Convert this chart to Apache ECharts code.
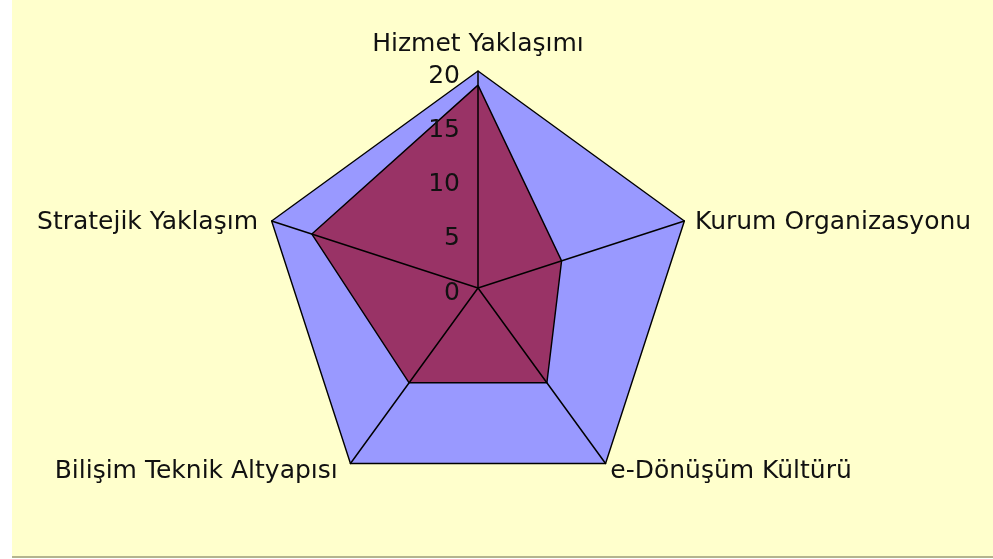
<!DOCTYPE html>
<html>
<head>
<meta charset="utf-8">
<script src="https://cdn.jsdelivr.net/npm/echarts@6/dist/echarts.min.js"></script>
<style>
  html, body { margin: 0; padding: 0; background: #fff; }
  #chart { position: absolute; left: 12px; top: 0; width: 981px; height: 556px; border-bottom: 2px solid #b4b48e; }
</style>
</head>
<body>
<div id="chart"></div>
<script>
// göstergeler (saat yönünün tersine sıralı, ECharts öyle çiziyor)
const categories = ['Hizmet Yaklaşımı', 'Stratejik Yaklaşım', 'Bilişim Teknik Altyapısı', 'e-Dönüşüm Kültürü', 'Kurum Organizasyonu']
const hedefValues = [20, 20, 20, 20, 20]
const mevcutValues = [18.7, 16.1, 10.8, 10.8, 8.1]
const tickLabels = ['0', '5', '10', '15', '20']

const mChart = echarts.init(document.getElementById('chart'))

const font = 'DejaVu Sans'
const fs = 25
// her etiket için ince ayar (rich stil adları)
const nameStyle = ['t', 'l1', 'l2', 'r2', 'r1']

const options = {
  backgroundColor: '#FFFFCC',
  animation: false,
  radar: {
    center: [466, 288],
    radius: 217,
    startAngle: 90,
    shape: 'polygon',
    z: 5,
    indicator: categories.map(name => ({ name: name, min: 0, max: 20 })),
    nameGap: 8,
    axisName: {
      color: '#111',
      fontFamily: font,
      fontSize: fs,
      formatter: (name) => '{' + nameStyle[categories.indexOf(name)] + '|' + name + '}',
      rich: {
        t: { fontFamily: font, fontSize: fs, color: '#111', padding: [0, 0, 6, 0] },
        l1: { fontFamily: font, fontSize: fs, color: '#111', padding: [8, 6, 0, 0] },
        l2: { fontFamily: font, fontSize: fs, color: '#111', padding: [2, 8, 0, 0] },
        r2: { fontFamily: font, fontSize: fs, color: '#111', padding: [2, 0, 0, 0] },
        r1: { fontFamily: font, fontSize: fs, color: '#111', padding: [8, 0, 0, 3] }
      }
    },
    splitNumber: 4,
    splitLine: { show: false },
    splitArea: { show: false },
    axisLine: { lineStyle: { color: '#000', width: 1.5 } },
    axisTick: { show: false },
    axisLabel: { show: false }
  },
  // ölçek etiketleri için üst üste polar
  polar: { center: [466, 288], radius: 217 },
  angleAxis: { show: false, startAngle: 90, min: 0, max: 360 },
  radiusAxis: {
    min: 0,
    max: 20,
    interval: 5,
    z: 10,
    axisLine: { show: false },
    axisTick: { show: false },
    splitLine: { show: false },
    axisLabel: {
      color: '#111',
      fontFamily: font,
      fontSize: fs,
      margin: 18,
      formatter: (v) => '{n|' + tickLabels[v / 5] + '}',
      rich: {
        n: { fontFamily: font, fontSize: fs, color: '#111', padding: [10, 0, 0, 0] }
      }
    }
  },
  series: [
    {
      type: 'radar',
      symbol: 'none',
      silent: true,
      z: 2,
      lineStyle: { width: 0, opacity: 0 },
      data: [
        { value: hedefValues, name: 'Hedef', areaStyle: { color: '#9999FF', opacity: 1 } },
        { value: mevcutValues, name: 'Mevcut', areaStyle: { color: '#993366', opacity: 1 } }
      ]
    },
    // kenar çizgileri dolguların üstünde kalsın
    {
      type: 'radar',
      symbol: 'none',
      silent: true,
      z: 3,
      lineStyle: { color: '#000', width: 1.4, opacity: 1 },
      data: [
        { value: hedefValues, name: 'Hedef' },
        { value: mevcutValues, name: 'Mevcut' }
      ]
    }
  ]
}
mChart.setOption(options)
</script>
</body>
</html>
